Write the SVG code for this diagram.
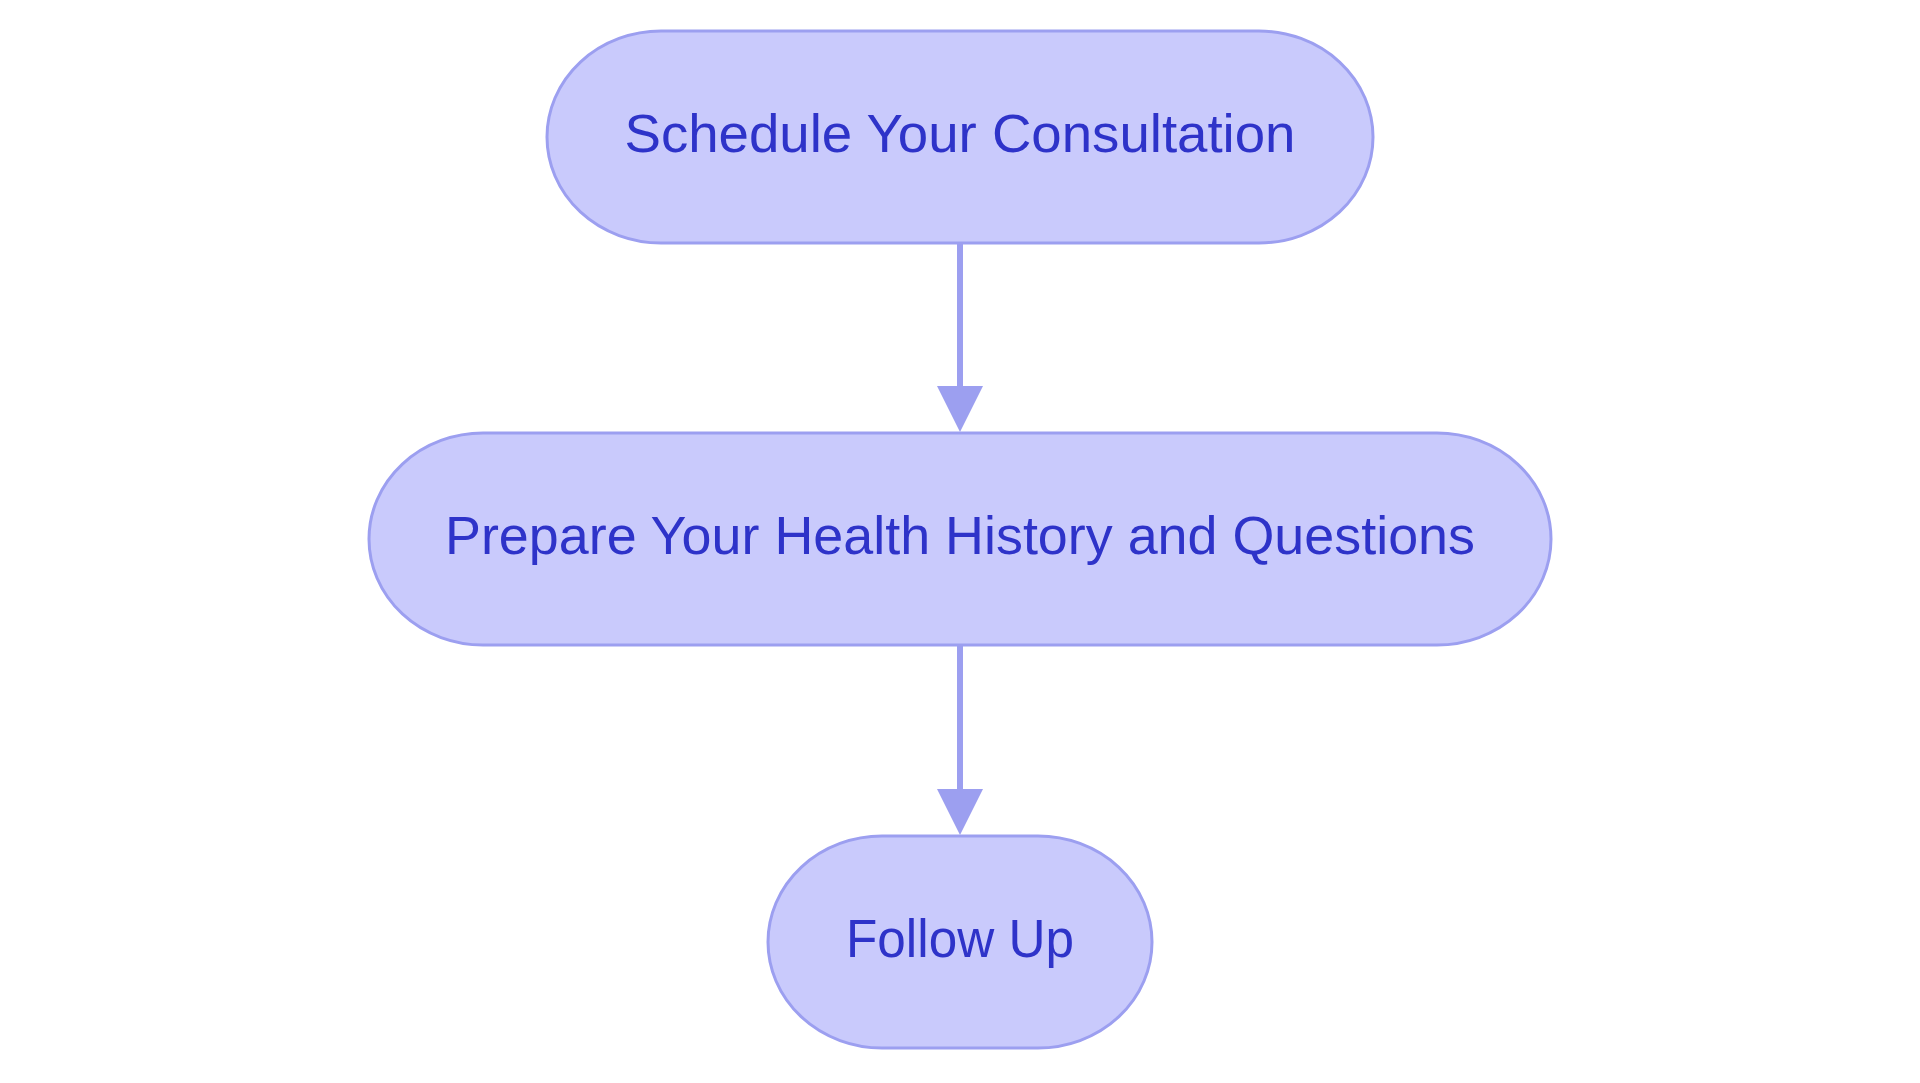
<svg xmlns="http://www.w3.org/2000/svg" width="1920" height="1083" viewBox="0 0 1920 1083">
<style>
.node rect{fill:#c9cafc;stroke:#9c9ff0;stroke-width:3}
.node text{font-family:"Liberation Sans",Arial,sans-serif;font-size:54px;fill:#2e33c9;text-anchor:middle}
.edge line{stroke:#9c9ff0;stroke-width:6}
.edge polygon{fill:#9c9ff0}
</style>
<rect width="1920" height="1083" fill="#ffffff"/>
<g id="connectors" class="edge">
<line x1="960" y1="243" x2="960" y2="390"/>
<polygon points="937,386 983,386 960,432"/>
<line x1="960" y1="645" x2="960" y2="793"/>
<polygon points="937,789 983,789 960,835"/>
</g>
<g id="node-schedule" class="node">
<rect x="547" y="31" width="826" height="212" rx="114" ry="106"/>
<text x="960" y="152" textLength="671" lengthAdjust="spacingAndGlyphs">Schedule Your Consultation</text>
</g>
<g id="node-prepare" class="node">
<rect x="369" y="433" width="1182" height="212" rx="114" ry="106"/>
<text x="960" y="554" textLength="1030" lengthAdjust="spacingAndGlyphs">Prepare Your Health History and Questions</text>
</g>
<g id="node-followup" class="node">
<rect x="768" y="836" width="384" height="212" rx="114" ry="106"/>
<text x="960" y="957" textLength="228" lengthAdjust="spacingAndGlyphs">Follow Up</text>
</g>
</svg>
